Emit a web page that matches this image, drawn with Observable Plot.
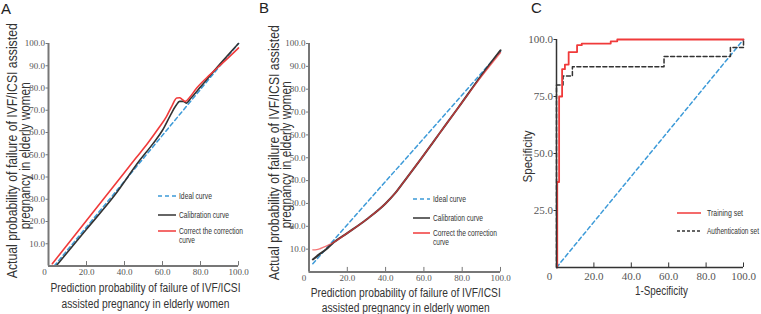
<!DOCTYPE html>
<html><head><meta charset="utf-8">
<script src="https://cdn.jsdelivr.net/npm/d3@7"></script>
<script src="https://cdn.jsdelivr.net/npm/@observablehq/plot@0.6"></script>
<style>
body{margin:0;background:#fff;}
#root{position:relative;width:761px;height:314px;overflow:hidden;background:#fff;}
.panel{position:absolute;top:0;}
.panel svg{overflow:visible;}
.plabel{position:absolute;font-family:"Liberation Sans",Arial,sans-serif;font-size:15px;line-height:15px;color:#222;}
#overlay{position:absolute;left:0;top:0;}
</style></head><body><div id="root"></div>
<script>
// ---------- tick values ----------
const xTicks = [0, 20, 40, 60, 80, 100];
const yTicksAB = [10, 20, 30, 40, 50, 60, 70, 80, 90, 100];
const yTicksC = [25, 50, 75, 100];

// ---------- Panel A ----------
const aIdealX = [3, 100];
const aIdealY = [0, 100];
const aCalX = [4, 20, 35, 48, 55, 60, 64, 67, 69, 71, 72.5, 75, 80, 90, 100];
const aCalY = [0, 16.5, 32, 47.5, 55, 61, 67.5, 72, 74, 74, 73.2, 75.5, 80.5, 90.5, 100];
const aCorX = [2, 20, 40, 46, 52.5, 58, 62, 65, 67.5, 69, 70.5, 72, 74, 78, 85, 92, 100];
const aCorY = [1, 20.5, 42, 48.5, 55.5, 62, 67, 72, 75.5, 75.6, 74.8, 74, 75.5, 80, 86, 91.5, 98];

// ---------- Panel B ----------
const bIdealX = [2, 100];
const bIdealY = [3.6, 96.5];
const bCalX = [2, 5, 9, 12, 20, 30, 40, 45, 50, 58, 68, 78, 90, 100];
const bCalY = [5.5, 7.5, 10, 12.3, 17, 23, 30, 34.5, 40, 49, 60.5, 72, 86, 97];
const bCorX = [2, 4, 6, 9, 12, 20, 30, 40, 45, 50, 58, 68, 78, 90, 100];
const bCorY = [9.7, 9.8, 10.3, 11.3, 12.5, 17, 23, 30, 34.5, 40, 49, 60.5, 72, 85.5, 96];

// ---------- Panel C ----------
const cTrainX = [0.4, 0.4, 1.4, 1.4, 3, 3, 4.5, 4.5, 6.5, 6.5, 11, 11, 13.5, 13.5, 29, 29, 32.5, 32.5, 100];
const cTrainY = [0, 37.5, 37.5, 75, 75, 87, 87, 89, 89, 94.5, 94.5, 97.5, 97.5, 98.2, 98.2, 99.2, 99.2, 100, 100];
const cAuthX = [0, 0, 3.5, 3.5, 8.5, 8.5, 57.5, 57.5, 93, 93, 100, 100];
const cAuthY = [0, 80, 80, 84, 84, 88, 88, 92.5, 92.5, 96.5, 96.5, 100];
const cRefX = [0, 100];
const cRefY = [0, 100];

// ---------- texts ----------
const xTitleAB = ["Prediction probability of failure of IVF/ICSI", "assisted pregnancy in elderly women"];
const yTitleAB = ["Actual probability of failure of IVF/ICSI assisted", "pregnancy in elderly women"];
const xTitleC = ["1-Specificity"];
const yTitleC = ["Specificity"];
const legendAB = ["Ideal curve", "Calibration curve", "Correct the correction", "curve"];
const legendC = ["Training set", "Authentication set"];
const panelLetters = ["A", "B", "C"];

const RED = "#f03a3a", BLUE = "#3c9ad8", DARK = "#333333";
const SANS = "Liberation Sans, Arial, sans-serif";
const SERIF = "Liberation Serif, Times New Roman, serif";

const zip = (xs, ys) => xs.map((x, i) => ({x, y: ys[i]}));
const root = document.getElementById("root");

function fitTexts(node, widths) {
  node.querySelectorAll("text").forEach(t => {
    const w = widths[t.textContent];
    if (w) { t.setAttribute("textLength", w); t.setAttribute("lengthAdjust", "spacingAndGlyphs"); }
  });
}

function makePanel(cfg) {
  const marks = [];
  for (const s of cfg.series) {
    marks.push(Plot.line(zip(s.x, s.y), {x: "x", y: "y", stroke: s.color, strokeWidth: s.width,
      strokeDasharray: s.dash, strokeOpacity: s.opacity ?? 1, curve: s.curve || "linear"}));
  }
  marks.push(
    Plot.ruleX([0], {stroke: cfg.axisColor, strokeWidth: cfg.axisWidth}),
    Plot.ruleY([0], {stroke: cfg.axisColor, strokeWidth: cfg.axisWidth}),
    Plot.ruleX(xTicks.filter(d => d > 0), {y1: 0, y2: cfg.tickUp, stroke: cfg.axisColor, strokeWidth: 1}),
    Plot.axisY(cfg.yTicks, {tickSize: 2.5, tickPadding: 1, tickFormat: d => d.toFixed(1),
      fontFamily: SERIF, fontSize: cfg.tickFs, fill: "#555", stroke: cfg.axisColor, label: null}),
    Plot.axisX(xTicks.filter(d => d > 0), {tickSize: 0, tickPadding: cfg.xPad, tickFormat: d => d.toFixed(1),
      fontFamily: SERIF, fontSize: cfg.tickFs, fill: "#555", label: null}),
    Plot.axisX(xTicks.filter(d => d === 0), {tickSize: 0, tickPadding: cfg.xPad, tickFormat: d => String(d), dx: cfg.zeroDx,
      fontFamily: SERIF, fontSize: cfg.tickFs, fill: "#555", label: null})
  );
  cfg.xTitle.forEach((line, i) => marks.push(
    Plot.text([line], {text: d => d, frameAnchor: "bottom", dx: cfg.xTitleDx, dy: cfg.xTitleDy[i],
      textAnchor: "middle", lineAnchor: "middle", fontFamily: SANS, fontSize: cfg.xTitleFs, fill: "#333"})));
  cfg.yTitle.forEach((line, i) => marks.push(
    Plot.text([line], {text: d => d, frameAnchor: "left", dx: cfg.yTitleDx[i], dy: cfg.yTitleDy[i], rotate: -90,
      textAnchor: "middle", lineAnchor: "middle", fontFamily: SANS, fontSize: cfg.yTitleFs, fill: "#333"})));
  const svg = Plot.plot({
    width: cfg.width, height: 314,
    marginLeft: cfg.mL, marginRight: cfg.mR, marginTop: cfg.mT, marginBottom: cfg.mB,
    x: {domain: [0, 100], label: null},
    y: {domain: [0, 100], label: null},
    style: {background: "transparent", overflow: "visible", fontFamily: SERIF},
    marks
  });
  fitTexts(svg, cfg.fit);
  const div = document.createElement("div");
  div.className = "panel";
  div.style.left = cfg.left + "px";
  div.style.width = cfg.width + "px";
  div.appendChild(svg);
  root.appendChild(div);
}

const fitAB = {
  [xTitleAB[0]]: 190, [xTitleAB[1]]: 168,
  [yTitleAB[0]]: 255, [yTitleAB[1]]: 147
};

makePanel({
  left: 0, width: 250, mL: 48, mR: 12, mT: 43, mB: 48.5,
  axisColor: "#777", axisWidth: 2, tickUp: 2, tickFs: 9, xPad: 2.5, zeroDx: -4,
  yTicks: yTicksAB,
  xTitle: xTitleAB, xTitleDx: 2, xTitleDy: [21.5, 37.5], xTitleFs: 12.5,
  yTitle: yTitleAB, yTitleDx: [-35.5, -23], yTitleDy: [-4, 1], yTitleFs: 14,
  fit: fitAB,
  series: [
    {x: aIdealX, y: aIdealY, color: BLUE, width: 1.5, dash: "4,3"},
    {x: aCalX, y: aCalY, color: DARK, width: 1.6, curve: "monotone-x"},
    {x: aCorX, y: aCorY, color: RED, width: 1.6, curve: "monotone-x"}
  ]
});

makePanel({
  left: 250, width: 255, mL: 58.5, mR: 5, mT: 43, mB: 42.5,
  axisColor: "#777", axisWidth: 2, tickUp: 2, tickFs: 9, xPad: 2.5, zeroDx: -5,
  yTicks: yTicksAB,
  xTitle: xTitleAB, xTitleDx: 1, xTitleDy: [20.5, 35.5], xTitleFs: 12.5,
  yTitle: yTitleAB, yTitleDx: [-34, -22.5], yTitleDy: [-5, -3], yTitleFs: 14,
  fit: fitAB,
  series: [
    {x: bIdealX, y: bIdealY, color: BLUE, width: 1.5, dash: "4,3"},
    {x: bCalX, y: bCalY, color: DARK, width: 2, curve: "monotone-x"},
    {x: bCorX, y: bCorY, color: RED, width: 1.4, opacity: 0.7, curve: "monotone-x"}
  ]
});

makePanel({
  left: 505, width: 256, mL: 51, mR: 18, mT: 39, mB: 47,
  axisColor: "#333", axisWidth: 1.5, tickUp: 2, tickFs: 11, xPad: 5, zeroDx: -7,
  yTicks: yTicksC,
  xTitle: xTitleC, xTitleDx: 11.5, xTitleDy: [23], xTitleFs: 12.5,
  yTitle: yTitleC, yTitleDx: [-29], yTitleDy: [3], yTitleFs: 12.5,
  fit: {[xTitleC[0]]: 53, [yTitleC[0]]: 52},
  series: [
    {x: cRefX, y: cRefY, color: BLUE, width: 1.5, dash: "4,3"},
    {x: cAuthX, y: cAuthY, color: DARK, width: 1.5, dash: "4,2.5"},
    {x: cTrainX, y: cTrainY, color: RED, width: 1.8}
  ]
});

// ---------- legends (SVG overlay) ----------
const ov = d3.select(root).append("svg").attr("id", "overlay").attr("width", 761).attr("height", 314);
function legend(items, lineX1, lineX2, textX) {
  for (const it of items) {
    if (it.style) {
      ov.append("line").attr("x1", lineX1).attr("x2", lineX2).attr("y1", it.y).attr("y2", it.y)
        .attr("stroke", it.style.color).attr("stroke-width", it.style.width)
        .attr("stroke-dasharray", it.style.dash || null);
    }
    ov.append("text").attr("x", textX).attr("y", it.y + 3).attr("font-family", SANS)
      .attr("font-size", 9).attr("fill", "#333").attr("textLength", it.w)
      .attr("lengthAdjust", "spacingAndGlyphs").text(it.label);
  }
}
const sIdeal = {color: BLUE, width: 1.5, dash: "4,3"}, sCal = {color: DARK, width: 1.5}, sCor = {color: RED, width: 1.5};
const abW = [33, 50, 64, 16];
const abStyles = [sIdeal, sCal, sCor, null];
legend(legendAB.map((l, i) => ({label: l, style: abStyles[i], w: abW[i], y: [196, 215, 231, 240][i]})), 158, 176, 179);
legend(legendAB.map((l, i) => ({label: l, style: abStyles[i], w: abW[i], y: [199, 218, 233, 242][i]})), 413, 430, 433);
const cStyles = [{color: RED, width: 1.5}, {color: DARK, width: 1.5, dash: "3,2"}];
legend(legendC.map((l, i) => ({label: l, style: cStyles[i], w: [36, 52][i], y: [213, 231][i]})), 677, 701, 707);

// ---------- panel letters ----------
const letterPos = [[1, 1], [259, 0], [531, 0]];
panelLetters.forEach((t, i) => {
  d3.select(root).append("div").attr("class", "plabel")
    .style("left", letterPos[i][0] + "px").style("top", letterPos[i][1] + "px").text(t);
});
</script>
</body></html>
